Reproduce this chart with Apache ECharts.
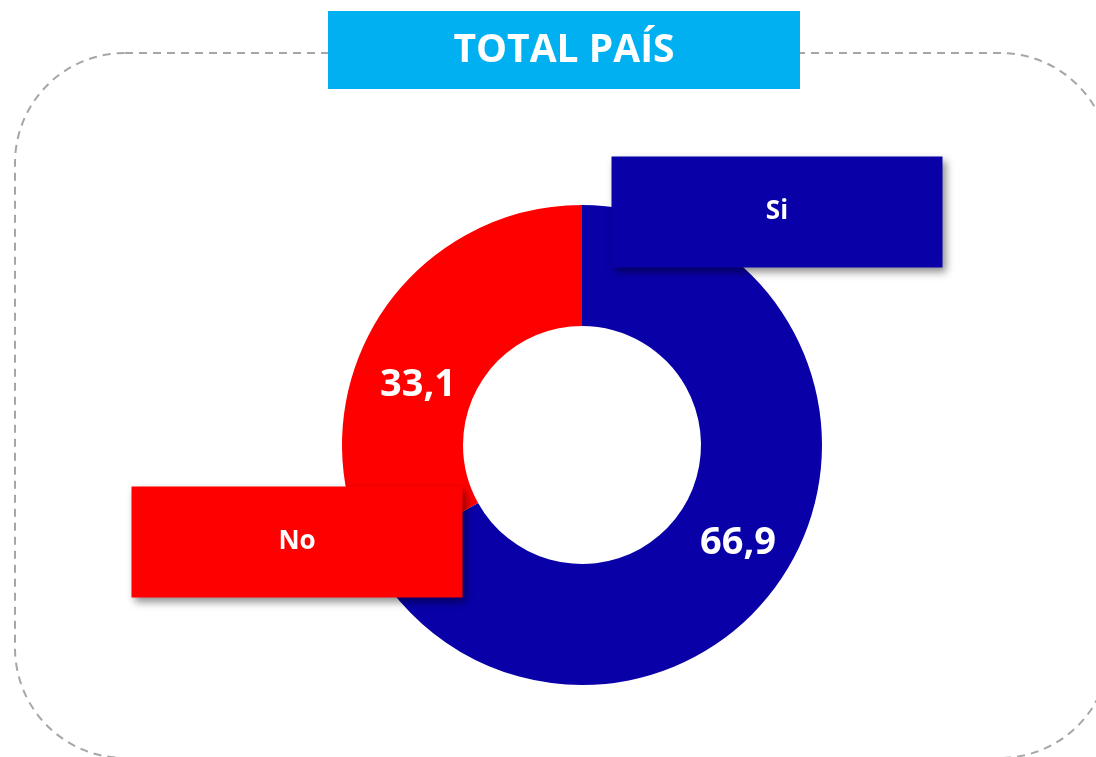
<!DOCTYPE html>
<html>
<head>
<meta charset="utf-8">
<script src="https://cdn.jsdelivr.net/npm/echarts@6/dist/echarts.min.js"></script>
<style>
  html, body { margin: 0; padding: 0; background: #fff; }
  #main { width: 1096px; height: 757px; }
</style>
</head>
<body>
<div id="main"></div>
<script>
// datos del gráfico
var categorias = ['Si', 'No'];
var valores = [66.9, 33.1];
var colores = ['#0900A8', '#FF0000'];
var titulo = 'TOTAL PAÍS';

// posiciones de las etiquetas (centro de cada caja / número)
var cajaPos = [[777, 212], [297, 542]];
var valorPos = [[738, 543], [418, 385]];

var datos = categorias.map(function (c, i) {
  return { name: c, value: valores[i], itemStyle: { color: colores[i] } };
});

var myChart = echarts.init(document.getElementById('main'));

var option = {
  animation: false,
  graphic: [
    {
      type: 'rect',
      z: 0,
      shape: { x: 15, y: 53, width: 1095, height: 705, r: 110 },
      style: { fill: 'none', stroke: '#A6A6A6', lineWidth: 2, lineDash: [8, 6] }
    },
    {
      type: 'rect',
      z: 1,
      shape: { x: 328, y: 11, width: 472, height: 78 },
      style: { fill: '#00B0F0' }
    },
    {
      type: 'text',
      z: 2,
      x: 564,
      y: 51,
      style: {
        text: titulo,
        fill: '#fff',
        font: 'bold 39px "Open Sans", sans-serif',
        align: 'center',
        verticalAlign: 'middle'
      }
    }
  ],
  series: [
    {
      type: 'pie',
      center: [582, 445],
      radius: [119, 240],
      startAngle: 90,
      avoidLabelOverlap: false,
      emphasis: { disabled: true },
      silent: true,
      label: {
        show: true,
        position: 'inside',
        formatter: function (p) { return String(p.value).replace('.', ','); },
        color: '#fff',
        fontFamily: 'Open Sans',
        fontWeight: 'bold',
        fontSize: 38,
        align: 'center',
        verticalAlign: 'middle'
      },
      labelLine: { show: false },
      labelLayout: function (p) {
        return { x: valorPos[p.dataIndex][0], y: valorPos[p.dataIndex][1] };
      },
      data: datos
    },
    {
      type: 'pie',
      center: [582, 445],
      radius: [119, 240],
      startAngle: 90,
      avoidLabelOverlap: false,
      emphasis: { disabled: true },
      silent: true,
      label: {
        show: true,
        position: 'inside',
        formatter: '{b}',
        color: '#fff',
        fontFamily: 'Open Sans',
        fontWeight: 'bold',
        fontSize: 26,
        width: 331,
        height: 111,
        lineHeight: 111,
        padding: 0,
        align: 'center',
        verticalAlign: 'middle',
        shadowBlur: 8,
        shadowOffsetX: 3,
        shadowOffsetY: 4,
        shadowColor: 'rgba(0,0,0,0.45)'
      },
      labelLine: { show: false },
      labelLayout: function (p) {
        return { x: cajaPos[p.dataIndex][0], y: cajaPos[p.dataIndex][1] };
      },
      data: categorias.map(function (c, i) {
        return {
          name: c,
          value: valores[i],
          itemStyle: { color: 'rgba(0,0,0,0)' },
          label: { backgroundColor: colores[i] }
        };
      })
    }
  ]
};

myChart.setOption(option);
</script>
</body>
</html>
